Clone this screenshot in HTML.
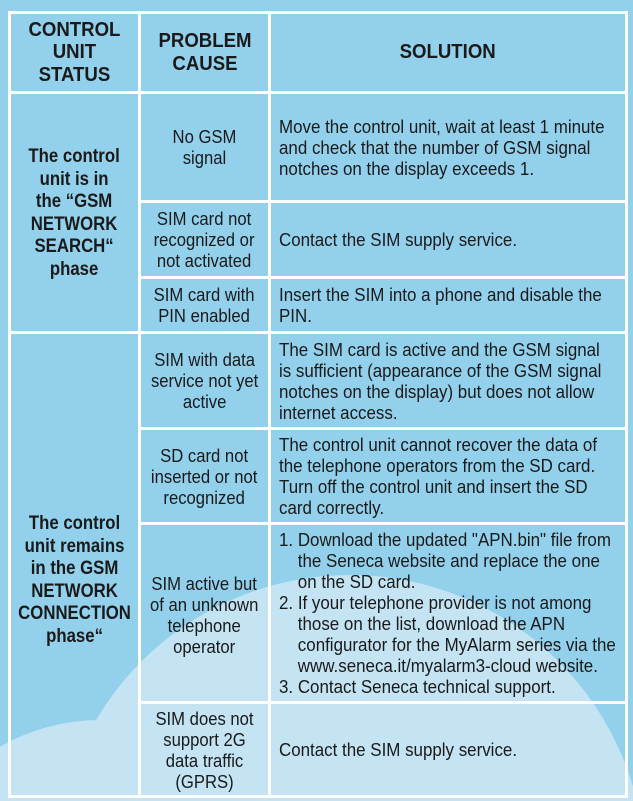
<!DOCTYPE html>
<html><head><meta charset="utf-8"><style>
html,body{margin:0;padding:0;width:633px;height:801px;overflow:hidden}
body{position:relative;background:#92d0ec;font-family:"Liberation Sans",Arial,sans-serif;color:#1a1a1a}
.l{position:absolute;background:#fff}
.c{position:absolute;display:flex;align-items:center;justify-content:center;overflow:visible}
.c span{display:block;white-space:nowrap;font-size:18.5px;line-height:21px;transform:scaleX(.9);text-align:center}
.c.h span{font-weight:bold;font-size:20px;line-height:22.5px;transform:scaleX(.93)}
.c.b span{font-weight:bold;font-size:19.5px;line-height:22.5px;transform:scaleX(.86)}
.c.s{justify-content:flex-start}
.c.s span{text-align:left;transform-origin:left center;transform:scaleX(.915)}
</style></head><body>
<svg width="633" height="801" style="position:absolute;left:0;top:0;overflow:hidden">
<g fill="#c4e3f3">
<circle cx="350" cy="870" r="295"/>
<circle cx="100" cy="920" r="200"/>
</g>
</svg>
<div class="l" style="left:8px;top:11px;width:620px;height:3px"></div>
<div class="l" style="left:8px;top:91px;width:620px;height:3px"></div>
<div class="l" style="left:8px;top:331px;width:620px;height:3px"></div>
<div class="l" style="left:8px;top:795px;width:620px;height:3px"></div>
<div class="l" style="left:139px;top:200px;width:489px;height:3px"></div>
<div class="l" style="left:139px;top:276px;width:489px;height:3px"></div>
<div class="l" style="left:139px;top:427px;width:489px;height:3px"></div>
<div class="l" style="left:139px;top:522px;width:489px;height:3px"></div>
<div class="l" style="left:139px;top:701px;width:489px;height:3px"></div>
<div class="l" style="left:8px;top:11px;width:3px;height:787px"></div>
<div class="l" style="left:138px;top:11px;width:3px;height:787px"></div>
<div class="l" style="left:268px;top:11px;width:3px;height:787px"></div>
<div class="l" style="left:625px;top:11px;width:3px;height:787px"></div>

<div class="c h" style="left:11px;top:14px;width:127px;height:77px"><span>CONTROL<br>UNIT<br>STATUS</span></div>
<div class="c h" style="left:141px;top:14px;width:127px;height:77px"><span>PROBLEM<br>CAUSE</span></div>
<div class="c h" style="left:271px;top:14px;width:354px;height:77px"><span>SOLUTION</span></div>

<div class="c b" style="left:11px;top:94px;width:127px;height:237px"><span>The control<br>unit is in<br>the “GSM<br>NETWORK<br>SEARCH“<br>phase</span></div>
<div class="c b" style="left:11px;top:334px;width:127px;height:461px"><span style="margin-top:30px">The control<br>unit remains<br>in the GSM<br>NETWORK<br>CONNECTION<br>phase“</span></div>

<div class="c" style="left:141px;top:94px;width:127px;height:106px"><span>No GSM<br>signal</span></div>
<div class="c" style="left:141px;top:203px;width:127px;height:73px"><span>SIM card not<br>recognized or<br>not activated</span></div>
<div class="c" style="left:141px;top:279px;width:127px;height:52px"><span>SIM card with<br>PIN enabled</span></div>
<div class="c" style="left:141px;top:334px;width:127px;height:93px"><span>SIM with data<br>service not yet<br>active</span></div>
<div class="c" style="left:141px;top:430px;width:127px;height:92px"><span>SD card not<br>inserted or not<br>recognized</span></div>
<div class="c" style="left:141px;top:525px;width:127px;height:176px"><span style="margin-top:4px">SIM active but<br>of an unknown<br>telephone<br>operator</span></div>
<div class="c" style="left:141px;top:704px;width:127px;height:91px"><span>SIM does not<br>support 2G<br>data traffic<br>(GPRS)</span></div>

<div class="c s" style="left:279px;top:94px;width:346px;height:106px"><span>Move the control unit, wait at least 1 minute<br>and check that the number of GSM signal<br>notches on the display exceeds 1.</span></div>
<div class="c s" style="left:279px;top:203px;width:346px;height:73px"><span>Contact the SIM supply service.</span></div>
<div class="c s" style="left:279px;top:279px;width:346px;height:52px"><span>Insert the SIM into a phone and disable the<br>PIN.</span></div>
<div class="c s" style="left:279px;top:334px;width:346px;height:93px"><span>The SIM card is active and the GSM signal<br>is sufficient (appearance of the GSM signal<br>notches on the display) but does not allow<br>internet access.</span></div>
<div class="c s" style="left:279px;top:430px;width:346px;height:92px"><span>The control unit cannot recover the data of<br>the telephone operators from the SD card.<br>Turn off the control unit and insert the SD<br>card correctly.</span></div>
<div class="c s" style="left:279px;top:525px;width:346px;height:176px"><span>1. Download the updated "APN.bin" file from<br>&nbsp;&nbsp;&nbsp;&nbsp;the Seneca website and replace the one<br>&nbsp;&nbsp;&nbsp;&nbsp;on the SD card.<br>2. If your telephone provider is not among<br>&nbsp;&nbsp;&nbsp;&nbsp;those on the list, download the APN<br>&nbsp;&nbsp;&nbsp;&nbsp;configurator for the MyAlarm series via the<br>&nbsp;&nbsp;&nbsp;&nbsp;www.seneca.it/myalarm3-cloud website.<br>3. Contact Seneca technical support.</span></div>
<div class="c s" style="left:279px;top:704px;width:346px;height:91px"><span>Contact the SIM supply service.</span></div>
</body></html>
